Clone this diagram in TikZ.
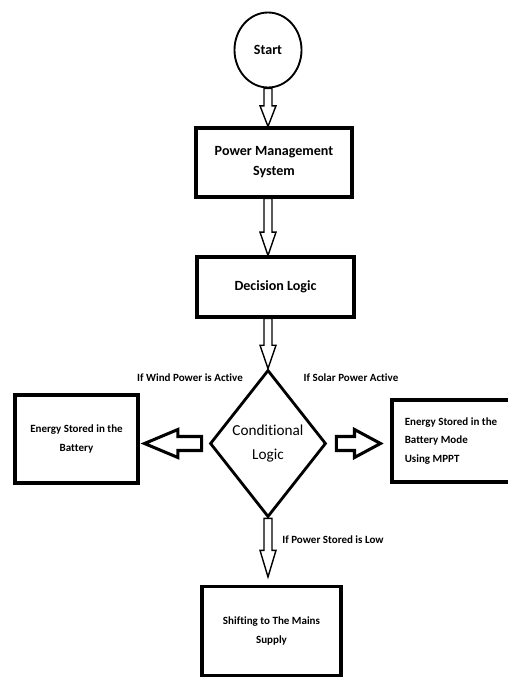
\documentclass[tikz,border=0pt]{standalone}
\usepackage{fontspec}
\setmainfont{Carlito}[Ligatures=NoCommon]
\usetikzlibrary{shapes.geometric}
\usetikzlibrary{calc}

% hollow block arrow: [style]{from}{to}{shaft half}{head half}{head length}
\newcommand{\hollowarrow}[6][]{%
  \coordinate (hb) at ($(#3)!#6!(#2)$);
  \draw[#1] ($(#2)!#4!90:(#3)$) -- ($(hb)!#4!90:(#3)$) -- ($(hb)!#5!90:(#3)$)
    -- (#3) -- ($(hb)!#5!-90:(#3)$) -- ($(hb)!#4!-90:(#3)$) -- ($(#2)!#4!-90:(#3)$) -- cycle;
}

\begin{document}
\begin{tikzpicture}[x=0.03cm,y=-0.03cm,
  box/.style={draw,line width=2.6pt,align=center,inner sep=0pt},
  small/.style={font=\fontsize{9.4}{15.5}\selectfont\bfseries},
  big/.style={font=\fontsize{12}{17}\selectfont\bfseries},
  thinarrow/.style={line width=1.2pt,line join=miter},
  fatarrow/.style={line width=2.6pt,line join=miter}]
  \useasboundingbox (0,0) rectangle (507,677);

  \node[draw,ellipse,line width=1.6pt,minimum width=2.01cm,minimum height=2.25cm,big] (start) at (268,50) {Start};
  \node[box,big,minimum width=4.68cm,minimum height=2.07cm] (pms) at (274,162.5) {Power Management\\System};
  \node[box,big,minimum width=4.71cm,minimum height=1.8cm] (dl) at (275.5,287) {Decision Logic};
  \node[draw,diamond,aspect=0.8,line width=2.4pt,inner sep=0pt,minimum width=3.48cm,minimum height=4.41cm,
        align=center,font=\fontsize{13}{20}\selectfont] (cond) at (268,443.5) {Conditional\\Logic};
  \node[box,small,minimum width=3.69cm,minimum height=2.64cm] (batt) at (76.5,439) {Energy Stored in the\\Battery};
  \node[box,small,minimum width=3.54cm,minimum height=2.46cm,align=left] (mppt) at (451,441)
        {Energy Stored in the\\Battery Mode\\Using MPPT};
  \node[box,small,minimum width=4.17cm,minimum height=2.67cm] (mains) at (271.5,631) {Shifting to The Mains\\Supply};

  \node[small] (windlbl) at (190,378) {If Wind Power is Active};
  \node[small] (solarlbl) at (351,378) {If Solar Power Active};
  \node[small] (lowlbl) at (333,540) {If Power Stored is Low};

  % arrow ends
  \coordinate (a1e) at (start.south |- pms.north);
  \coordinate (a2s) at (pms.south -| start);
  \coordinate (a2e) at (dl.north -| start);
  \coordinate (a3s) at (dl.south -| start);
  \coordinate (a4e) at ($(mains.north -| cond)+(0,-8)$);
  \coordinate (windtail) at ($(cond.west)+(-7,0)$);
  \coordinate (windtip) at ($(windtail -| batt.east)+(5,0)$);
  \coordinate (solartail) at ($(cond.east)+(9,0)$);
  \coordinate (solartip) at ($(solartail -| mppt.west)+(-10,0)$);

  \hollowarrow[thinarrow]{start.south}{a1e}{0.12cm}{0.24cm}{0.62cm}
  \hollowarrow[thinarrow]{a2s}{a2e}{0.12cm}{0.24cm}{0.7cm}
  \hollowarrow[thinarrow]{a3s}{cond.north}{0.12cm}{0.24cm}{0.7cm}
  \hollowarrow[thinarrow]{cond.south}{a4e}{0.12cm}{0.24cm}{0.8cm}
  \hollowarrow[fatarrow]{windtail}{windtip}{0.21cm}{0.42cm}{1.0cm}
  \hollowarrow[fatarrow]{solartail}{solartip}{0.21cm}{0.42cm}{0.78cm}
\end{tikzpicture}
\end{document}
